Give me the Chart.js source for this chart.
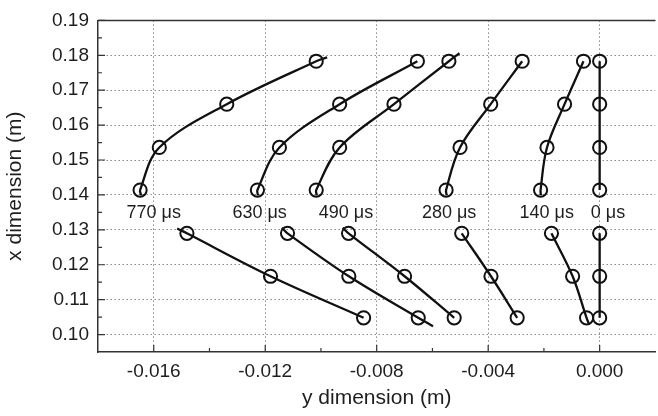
<!DOCTYPE html>
<html>
<head>
<meta charset="utf-8">
<script src="https://cdn.jsdelivr.net/npm/chart.js@4/dist/chart.umd.min.js"></script>
<style>
  html,body{margin:0;padding:0;background:#fff;overflow:hidden;}
  #wrap{width:664px;height:416px;}
</style>
</head>
<body>
<div id="wrap"><canvas id="chart" width="664" height="416"></canvas></div>
<script>
// Time labels for each profile
const times = ["770 μs","630 μs","490 μs","280 μs","140 μs","0 μs"];
const labelX = [-0.0160,-0.0122,-0.0091,-0.0054,-0.0019,0.0003];
const labelY = 0.1348;

// Measurement heights (x dimension), upper and lower groups
const upperH = [0.1783,0.1660,0.1536,0.1414];
const lowerH = [0.1290,0.1167,0.1048];

// Lateral position (y dimension) at each height, one row per time
const upperX = [
  [-0.01017,-0.01338,-0.01580,-0.01649],
  [-0.00654,-0.00933,-0.01149,-0.01228],
  [-0.00541,-0.00738,-0.00933,-0.01017],
  [-0.00278,-0.00391,-0.00501,-0.00551],
  [-0.00058,-0.00126,-0.00189,-0.00212],
  [0,0,0,0]
];
const lowerX = [
  [-0.01481,-0.01181,-0.00847],
  [-0.01120,-0.00900,-0.00651],
  [-0.00901,-0.00700,-0.00522],
  [-0.00495,-0.00390,-0.00296],
  [-0.00173,-0.00097,-0.00047],
  [0,0,0]
];

// Ends of the fitted curves: [topX, topY, bottomX, bottomY]
const upperFit = [
  [-0.00978,0.1794,-0.01645,0.1399],
  [-0.00654,0.1783,-0.01226,0.1399],
  [-0.00503,0.1806,-0.01015,0.1399],
  [-0.00278,0.1783,-0.00549,0.1399],
  [-0.00058,0.1783,-0.00211,0.1399],
  [0,0.1783,0,0.1414]
];
const lowerFit = [
  [-0.01516,0.1304,-0.00847,0.1048],
  [-0.01140,0.1306,-0.00598,0.1024],
  [-0.00922,0.1306,-0.00522,0.1048],
  [-0.00495,0.1290,-0.00296,0.1048],
  [-0.00173,0.1290,-0.00038,0.1029],
  [0,0.1290,0,0.1048]
];

// Axis ticks
const xMajor = [-0.016,-0.012,-0.008,-0.004,0];
const xMinor = [-0.014,-0.010,-0.006,-0.002];
const yMajor = [0.10,0.11,0.12,0.13,0.14,0.15,0.16,0.17,0.18,0.19];
const yMinor = [0.105,0.115,0.125,0.135,0.145,0.155,0.165,0.175,0.185];

const FONT = "'Liberation Sans', Arial, sans-serif";
const INK = "#111";
const TEXT = "#1e1e1e";

function pts(xs, hs){ return xs.map((v,i)=>({x:v,y:hs[i]})); }

function curve(xs, hs, f){
  const d = pts(xs,hs);
  const out = [];
  if(f[0]!==d[0].x || f[1]!==d[0].y) out.push({x:f[0],y:f[1]});
  out.push(...d);
  const last = d[d.length-1];
  if(f[2]!==last.x || f[3]!==last.y) out.push({x:f[2],y:f[3]});
  return out;
}

const datasets = [];
times.forEach((t,i)=>{
  // markers on top
  datasets.push({data:pts(upperX[i],upperH),order:0,pointRadius:6.6,pointBorderWidth:2,
    pointBorderColor:INK,pointBackgroundColor:"rgba(0,0,0,0)",showLine:false});
  datasets.push({data:pts(lowerX[i],lowerH),order:0,pointRadius:6.6,pointBorderWidth:2,
    pointBorderColor:INK,pointBackgroundColor:"rgba(0,0,0,0)",showLine:false});
  // fitted curves
  const straight = i===5 ? 0 : 0.35;
  datasets.push({data:curve(upperX[i],upperH,upperFit[i]),order:1,showLine:true,pointRadius:0,
    borderColor:INK,borderWidth:2.3,tension:straight});
  datasets.push({data:curve(lowerX[i],lowerH,lowerFit[i]),order:1,showLine:true,pointRadius:0,
    borderColor:INK,borderWidth:2.3,tension:straight});
});

// Frame top edge, inward tick marks and time labels
const decorations = {
  id:"decorations",
  afterDraw(chart){
    const {ctx, chartArea:a, scales:{x,y}} = chart;
    ctx.save();
    ctx.strokeStyle="#333";
    ctx.lineWidth=1.5;
    ctx.beginPath(); ctx.moveTo(a.left,a.top); ctx.lineTo(a.right,a.top); ctx.stroke();
    ctx.lineWidth=1.2;
    ctx.beginPath();
    xMajor.forEach(v=>{const p=x.getPixelForValue(v); ctx.moveTo(p,a.bottom); ctx.lineTo(p,a.bottom-7);});
    xMinor.forEach(v=>{const p=x.getPixelForValue(v); ctx.moveTo(p,a.bottom); ctx.lineTo(p,a.bottom-4);});
    yMajor.forEach(v=>{const p=y.getPixelForValue(v); ctx.moveTo(a.left,p); ctx.lineTo(a.left+7,p);});
    yMinor.forEach(v=>{const p=y.getPixelForValue(v); ctx.moveTo(a.left,p); ctx.lineTo(a.left+4,p);});
    ctx.stroke();
    ctx.fillStyle=TEXT;
    ctx.font="18px "+FONT;
    ctx.textAlign="center";
    ctx.textBaseline="middle";
    times.forEach((t,i)=>ctx.fillText(t,x.getPixelForValue(labelX[i]),y.getPixelForValue(labelY)));
    ctx.restore();
  }
};

new Chart(document.getElementById("chart"),{
  type:"scatter",
  data:{datasets},
  options:{
    responsive:false,
    animation:false,
    layout:{padding:{left:0,right:4,top:16,bottom:0}},
    plugins:{legend:{display:false},tooltip:{enabled:false}},
    scales:{
      x:{
        type:"linear",min:-0.018,max:0.002,
        afterBuildTicks:s=>{s.ticks=xMajor.map(v=>({value:v}));},
        afterFit:s=>{s.height=64;},
        ticks:{padding:8,color:TEXT,font:{family:FONT,size:19},callback:v=>v.toFixed(3)},
        grid:{color:"#8a8a8a",lineWidth:1,drawTicks:false},
        border:{display:true,color:"#333",width:1.5,dash:[1.5,2.5]},
        title:{display:true,text:"y dimension (m)",color:TEXT,font:{family:FONT,size:21},padding:{top:0,bottom:5}}
      },
      y:{
        type:"linear",min:0.095,max:0.19,
        afterBuildTicks:s=>{s.ticks=yMajor.map(v=>({value:v}));},
        afterFit:s=>{s.width=98;},
        ticks:{padding:9,color:TEXT,font:{family:FONT,size:19},callback:v=>v.toFixed(2)},
        grid:{color:"#8a8a8a",lineWidth:1,drawTicks:false},
        border:{display:true,color:"#333",width:1.5,dash:[1.5,2.5]},
        title:{display:true,text:"x dimension (m)",color:TEXT,font:{family:FONT,size:21},padding:{top:3,bottom:0}}
      }
    }
  },
  plugins:[decorations]
});
</script>
</body>
</html>
